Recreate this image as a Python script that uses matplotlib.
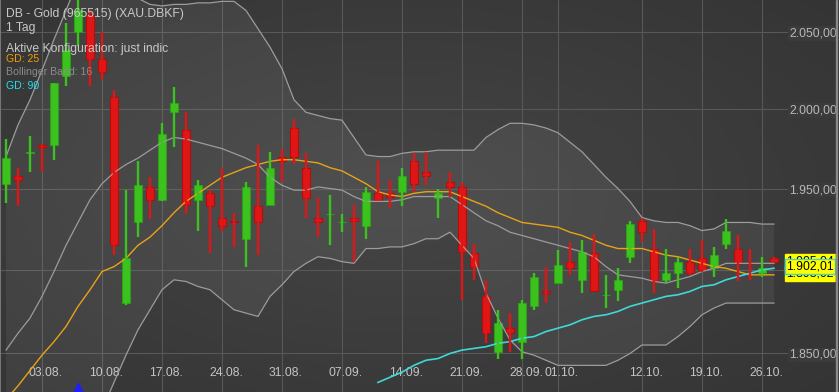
import numpy as np
import matplotlib
matplotlib.use('Agg')
import matplotlib.pyplot as plt
from matplotlib.transforms import blended_transform_factory, ScaledTranslation
from matplotlib.patches import Rectangle

plt.rcParams['font.family'] = ['Liberation Sans', 'DejaVu Sans']

# Tageskerzen 29.07. - 27.10. (Handelstage)
opens = [1953,1958,1972,1977,1977,2021,2050,2061,2032,2008,1880,1929,1951,1943,1998,1987,1943,1947,1932,1930,
         1919,1939,1940,1970,1988,1963,1932,1934,1929,1932,1927,1947,1947,1948,1967,1960,1944,1954,1951,1910,
         1884,1851,1865,1857,1878,1887,1892,1905,1894,1910,1885,1888,1908,1930,1913,1894,1898,1905,1907,1901,
         1916,1913,1905,1898,1907]
highs = [1981,1963,1983,1978,2017,2056,2074,2064,2050,2012,1949,1967,1957,1991,2014,1998,1955,1949,1963,1935,
         1954,1977,1973,1975,1994,1972,1945,1946,1934,1940,1951,1967,1955,1963,1972,1973,1950,1960,1954,1916,
         1894,1876,1874,1882,1898,1902,1912,1917,1918,1922,1897,1901,1930,1932,1925,1913,1908,1913,1918,1914,
         1931,1921,1913,1908,1908]
lows = [1941,1939,1960,1960,1968,2015,2041,2015,2019,1909,1879,1920,1931,1942,1976,1934,1924,1910,1923,1914,
        1902,1909,1940,1954,1965,1932,1920,1915,1923,1905,1919,1943,1938,1939,1948,1952,1932,1945,1882,1894,
        1856,1847,1851,1847,1876,1880,1892,1897,1886,1887,1877,1881,1904,1917,1886,1892,1889,1897,1899,1896,
        1913,1893,1894,1896,1904]
closes = [1969,1955,1973,1976,2017,2038,2064,2032,2024,1915,1907,1952,1943,1984,2004,1940,1952,1939,1927,1929,
          1951,1929,1963,1967,1970,1944,1929,1934,1929,1930,1948,1943,1945,1958,1953,1958,1947,1951,1911,1902,
          1862,1868,1862,1880,1896,1886,1903,1901,1911,1887,1885,1894,1928,1923,1893,1898,1905,1898,1900,1909,
          1924,1904,1904,1901,1905]

# Bollinger Band 16
bb_upper = [1970,1990,2006,2025,2045,2064,2084,2097,2104,2101,2084,2072,2068,2067,2068,2068,2069,2069,2070,2070,
            2064,2052,2040,2026,2006,1998,1996,1994,1993,1982,1971,1970,1970,1972,1973,1973,1974,1974,1974,1974,
            1982,1987,1991,1991,1990,1988,1985,1979,1973,1965,1957,1950,1942,1932,1930,1929,1929,1927,1924,1925,
            1929,1929,1929,1928,1928]
bb_mid = [1852,1862,1871,1884,1899,1915,1929,1943,1953,1960,1965,1969,1974,1979,1982,1981,1979,1977,1975,1972,
          1969,1965,1957,1952,1949,1949,1951,1950,1949,1945,1942,1942,1942,1943,1945,1945,1945,1945,1940,1935,
          1930,1927,1923,1921,1919,1917,1915,1913,1911,1908,1902,1897,1896,1895,1893,1892,1894,1896,1899,1901,
          1904,1904,1904,1904,1904]
bb_lower = [1777,1778,1779,1780,1781,1782,1787,1800,1817,1833,1849,1864,1876,1888,1894,1893,1890,1888,1882,1876,
            1874,1872,1884,1891,1899,1904,1908,1907,1905,1904,1913,1913,1914,1914,1916,1919,1919,1923,1915,1907,
            1886,1871,1858,1851,1849,1846,1843,1843,1843,1843,1843,1846,1850,1855,1855,1855,1860,1866,1873,1877,
            1880,1880,1880,1880,1880]

# gleitende Durchschnitte
gd25 = [1823,1831,1840,1849,1857,1866,1878,1888,1899,1902,1907,1915,1920,1927,1935,1942,1947,1952,1957,1960,
        1963,1965,1967,1968,1968,1967,1966,1963,1961,1957,1953,1948,1946,1945,1947,1948,1948,1948,1945,1942,
        1939,1935,1932,1929,1928,1927,1926,1923,1921,1918,1915,1913,1913,1913,1911,1909,1908,1906,1904,1902,
        1901,1899,1897,1897,1897]
gd90 = [None]*31 + [1833,1836,1839,1843,1846,1847,1850,1852,1853,1854,1856,1857,1859,1860,1863,1865,1867,1870,1872,
                    1873,1875,1878,1880,1882,1884,1885,1887,1890,1891,1894,1896,1898,1900,1901]

tick_idx = [3, 8, 13, 18, 23, 28, 33, 38, 43, 46, 53, 58, 63]
tick_lbl = ['03.08.', '10.08.', '17.08.', '24.08.', '31.08.', '07.09.', '14.09.', '21.09.', '28.09.', '01.10.',
            '12.10.', '19.10.', '26.10.']
price_ticks = [1850, 1900, 1950, 2000, 2050]
last_tags = [1905.04, 1898.02, 1902.01]
signal_idx = [6]
signal_price = [1827]


def de(v):
    return f"{v:,.2f}".replace(',', 'X').replace('.', ',').replace('X', '.')


o = np.array(opens, float)
h = np.array(highs, float)
l = np.array(lows, float)
c = np.array(closes, float)
g90 = np.array([np.nan if v is None else v for v in gd90], float)
x = np.arange(len(o))

fig = plt.figure(figsize=(8.39, 3.92), dpi=100)

# Hintergrund mit leichtem Verlauf
bg = fig.add_axes([0, 0, 1, 1], zorder=0)
yy, xx = np.mgrid[0:1:200j, 0:1:400j]
r = np.sqrt(((xx - 0.48) / 0.75) ** 2 + ((yy - 0.5) / 0.8) ** 2)
shade = 0.27 - 0.07 * np.clip(r, 0, 1)
bg.imshow(np.dstack([shade] * 3), extent=[0, 1, 0, 1], aspect='auto')
bg.axis('off')

ax = fig.add_axes([0, 0, 1, 1], zorder=1)
ax.set_facecolor('none')
ax.set_yscale('log')
ax.fill_between(x, bb_lower, bb_upper, color='white', alpha=0.06, lw=0)
for b in (bb_upper, bb_mid, bb_lower):
    ax.plot(x, b, color='#9c9c9c', lw=0.9)
ax.plot(x, gd25, color='#e8a317', lw=1.0)
ax.plot(x, g90, color='#3fd8d8', lw=1.2)

green = c >= o
col = np.where(green, '#3cc21f', '#e01515')
edge = np.where(green, '#2c9e16', '#b30d0d')
ax.vlines(x, l, h, color=col, lw=1.7)
ax.bar(x, np.abs(c - o), bottom=np.minimum(o, c), width=0.72, color=col, edgecolor=edge, lw=0.8)
ax.plot(signal_idx, signal_price, marker='^', ms=14, color='#1e1eff', ls='none')

ax.set_xlim(-0.5, 69.42)
ax.set_ylim(1827.4, 2070.9)
ax.set_xticks(tick_idx)
ax.set_xticklabels(tick_lbl)
ax.yaxis.tick_right()
ax.set_yticks(price_ticks)
ax.set_yticklabels([de(v) for v in price_ticks])
ax.minorticks_off()
ax.tick_params(axis='x', direction='in', length=0, pad=-18, labelsize=8.8, labelcolor='#c4c4c4')
ax.tick_params(axis='y', direction='in', length=0, pad=-36, labelsize=8.8, labelcolor='#b8b8b8')
off = ScaledTranslation(4 / 100, 0, fig.dpi_scale_trans)
for t in ax.get_xticklabels():
    t.set_transform(t.get_transform() + off)
for t in ax.get_yticklabels():
    t.set_bbox(dict(facecolor='#3b3b3b', edgecolor='none', pad=1))
ax.grid(True, color='#585858', lw=0.8)
ax.set_axisbelow(True)
for s in ('top', 'right', 'bottom'):
    ax.spines[s].set_visible(False)
ax.spines['left'].set_color('#767676')
ax.spines['left'].set_linewidth(1.5)

# Kursmarken rechts
tr = blended_transform_factory(ax.transAxes, ax.transData)
for v in last_tags:
    ec = '#45d6c8' if v == 1902.01 else '#ffff00'
    ax.text(786 / 839, v, de(v), transform=tr, ha='left', va='center', fontsize=8.8, color='black', zorder=5,
            bbox=dict(boxstyle='square,pad=0.12', facecolor='#ffff00', edgecolor=ec, lw=1))

fig.patches.append(Rectangle((836 / 839, 0), 3 / 839, 1, transform=fig.transFigure, color='#2e2e2e', zorder=3))
fig.patches.append(Rectangle((836 / 839, 0), 1 / 839, 1, transform=fig.transFigure, color='#8a8a8a', zorder=3))

tx = 6 / 839
fig.text(tx, 1 - 14 / 392, 'DB - Gold (965515) (XAU.DBKF)', fontsize=8.7, color='#c8c8c8', va='center', zorder=4)
fig.text(tx, 1 - 28 / 392, '1 Tag', fontsize=8.7, color='#c8c8c8', va='center', zorder=4)
fig.text(tx, 1 - 49 / 392, 'Aktive Konfiguration: just indic', fontsize=8.7, color='#c8c8c8', va='center', zorder=4)
fig.text(tx, 1 - 59 / 392, 'GD: 25', fontsize=7.6, color='#f0a000', va='center', zorder=4)
fig.text(tx, 1 - 72 / 392, 'Bollinger Band: 16', fontsize=7.6, color='#8c8c8c', va='center', zorder=4)
fig.text(tx, 1 - 86 / 392, 'GD: 90', fontsize=7.6, color='#22e0ee', va='center', zorder=4)

plt.savefig('out.png', dpi=100)
